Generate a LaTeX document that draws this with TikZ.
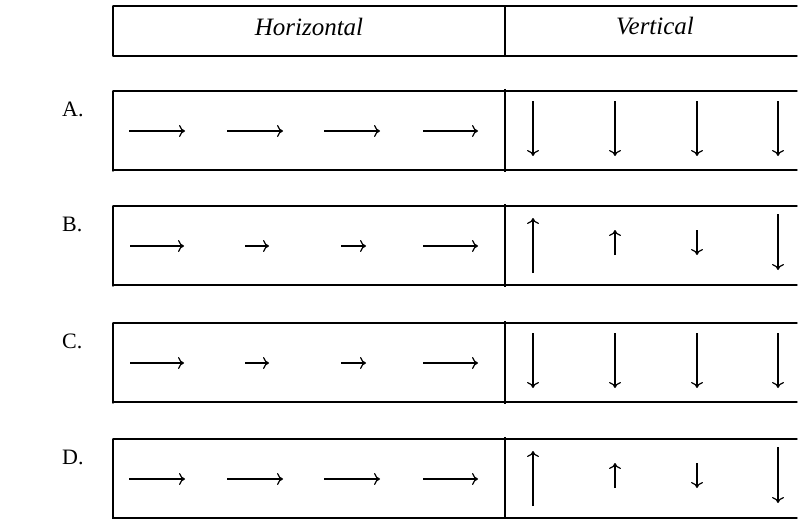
\documentclass[tikz,border=0pt]{standalone}
\usepackage{fontspec}
\setmainfont{Liberation Serif}
\usetikzlibrary{arrows.meta}
\begin{document}
\begin{tikzpicture}[x=1pt,y=-1pt,
  rule/.style={line width=1.4pt,line cap=round},
  divider/.style={line width=2.4pt},
  vec/.style={line width=1.2pt,-{To[length=6pt,width=12pt]}},
  head/.style={font=\itshape\fontsize{25}{28}\selectfont,anchor=base},
  rowlabel/.style={font=\fontsize{22}{24}\selectfont,anchor=base west,inner sep=0pt}]
\useasboundingbox (0,0) rectangle (798,519);

% column headings
\draw[rule] (113,6) -- (797,6) (113,56) -- (797,56) (113,6) -- (113,56);
\draw[divider] (505,6) -- (505,57);
\node[head] (hh) at (309,36) {Horizontal};
\node[head] (hv) at (655,35) {Vertical};

% frames of the four answer rows
\foreach \t/\lab in {91/A, 206/B, 323/C, 439/D}{
  \draw[rule] (113,\t) -- (797,\t) (113,\t+79) -- (797,\t+79) (113,\t) -- (113,\t+80);
  \draw[divider] (505,\t-2) -- (505,\t+81);
  \node[rowlabel] (lab\lab) at (62,\t+25) {\lab.};
}

% horizontal components
\foreach \t in {91,439}{
  \foreach \a/\b in {129/185, 227/283, 324/380, 423/478}
    \draw[vec] (\a,\t+40) -- (\b,\t+40);
}
\foreach \t in {206,323}{
  \foreach \a/\b in {130/184, 245/269, 341/366, 423/478}
    \draw[vec] (\a,\t+40) -- (\b,\t+40);
}

% vertical components
\foreach \t in {91,323}{
  \foreach \x in {533,615,697,778}
    \draw[vec] (\x,\t+10) -- (\x,\t+65);
}
\foreach \t in {206,439}{
  \draw[vec] (533,\t+67) -- (533,\t+12);
  \draw[vec] (615,\t+49) -- (615,\t+24);
  \draw[vec] (697,\t+24) -- (697,\t+49);
  \draw[vec] (778,\t+8) -- (778,\t+64);
}
\end{tikzpicture}
\end{document}
